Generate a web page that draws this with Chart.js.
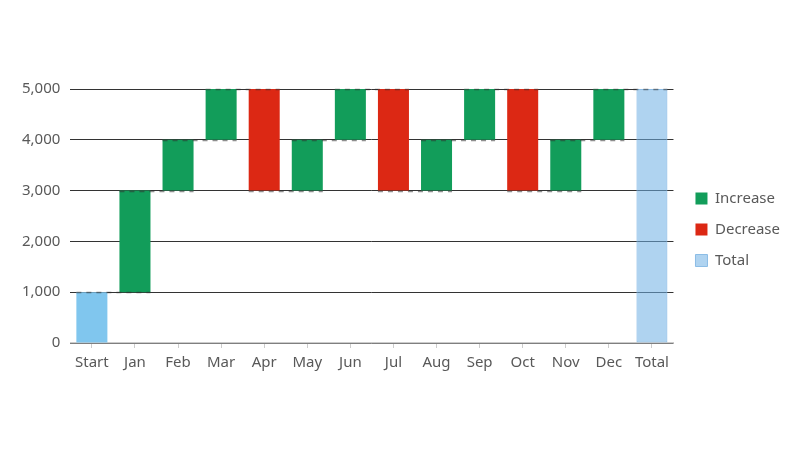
<!DOCTYPE html>
<html>
<head>
<meta charset="utf-8">
<script src="https://cdn.jsdelivr.net/npm/chart.js@4/dist/chart.umd.min.js"></script>
<style>
  html, body { margin: 0; padding: 0; background: #fff; }
  #wrap { width: 800px; height: 450px; }
</style>
</head>
<body>
<div id="wrap"><canvas id="waterfall"></canvas></div>
<script>
// waterfall values
const categories = ["Start", "Jan", "Feb", "Mar", "Apr", "May", "Jun", "Jul", "Aug", "Sep", "Oct", "Nov", "Dec", "Total"];
const startValue = 1000;
const monthChanges = [2000, 1000, 1000, -2000, 1000, 1000, -2000, 1000, 1000, -2000, 1000, 1000];
const yTicks = [0, 1000, 2000, 3000, 4000, 5000];

// build floating bars from running total
let running = startValue;
const startBars = [[0, startValue]];
const increaseBars = [null];
const decreaseBars = [null];
const totalBars = [null];
const levels = [startValue]; // level at the end of each bar
monthChanges.forEach(function (c) {
    const from = running;
    running += c;
    increaseBars.push(c >= 0 ? [from, running] : null);
    decreaseBars.push(c < 0 ? [running, from] : null);
    startBars.push(null);
    totalBars.push(null);
    levels.push(running);
});
startBars.push(null);
increaseBars.push(null);
decreaseBars.push(null);
totalBars.push([0, running]);

const font = { family: "'Noto Sans', 'Open Sans', sans-serif", size: 15 };

// dashed connector lines between neighbouring bars
const connectors = {
    id: "connectors",
    afterLayout(chart) {
        // nudge legend a bit further from the plot and up
        chart.legend.left += 6;
        chart.legend.right += 6;
        chart.legend.top -= 4;
        chart.legend.bottom -= 4;
    },
    afterDatasetsDraw(chart) {
        const ctx = chart.ctx;
        const y = chart.scales.y;
        const x = chart.scales.x;
        const step = x.getPixelForValue(1) - x.getPixelForValue(0);
        const w = step * 0.72 / 2;
        ctx.save();
        ctx.setLineDash([5, 5]);
        ctx.lineWidth = 1.5;
        ctx.strokeStyle = "rgba(50,50,50,0.55)";
        for (let i = 0; i < categories.length - 1; i++) {
            const py = Math.round(y.getPixelForValue(levels[i])) + 0.5;
            ctx.beginPath();
            ctx.moveTo(x.getPixelForValue(i) - w, py);
            ctx.lineTo(x.getPixelForValue(i + 1) + w, py);
            ctx.stroke();
        }
        ctx.restore();
    }
};

const ctx = document.getElementById("waterfall").getContext("2d");
const chart = new Chart(ctx, {
    type: "bar",
    data: {
        labels: categories,
        datasets: [
            { label: "Start", data: startBars, backgroundColor: "#80c6ee", borderWidth: 0 },
            { label: "Increase", data: increaseBars, backgroundColor: "#129d5a", borderWidth: 0 },
            { label: "Decrease", data: decreaseBars, backgroundColor: "#dc2814", borderWidth: 0 },
            { label: "Total", data: totalBars, backgroundColor: "rgba(110,175,228,0.55)", borderColor: "#8cbde6", borderWidth: 1, borderSkipped: false }
        ]
    },
    options: {
        responsive: true,
        maintainAspectRatio: false,
        animation: false,
        datasets: {
            bar: { grouped: false, categoryPercentage: 1, barPercentage: 0.72 }
        },
        layout: {
            padding: { left: 12, right: 16, top: 89, bottom: 72 }
        },
        scales: {
            x: {
                grid: { drawOnChartArea: false, drawTicks: true, tickLength: 5, color: "#cccccc", offset: false },
                border: { color: "#cccccc", width: 1.5 },
                ticks: { color: "#595959", font: font, padding: 6 }
            },
            y: {
                min: 0,
                max: 5000,
                afterBuildTicks(axis) { axis.ticks = yTicks.map(v => ({ value: v })); },
                grid: { color: "#333333", drawTicks: false, lineWidth: 1 },
                border: { display: false },
                ticks: { color: "#595959", font: font, padding: 10 }
            }
        },
        plugins: {
            tooltip: { enabled: false },
            legend: {
                position: "right",
                labels: {
                    filter: item => item.text !== "Start",
                    boxWidth: 12,
                    boxHeight: 12,
                    padding: 16,
                    color: "#595959",
                    font: font
                }
            }
        }
    },
    plugins: [connectors]
});
</script>
</body>
</html>
